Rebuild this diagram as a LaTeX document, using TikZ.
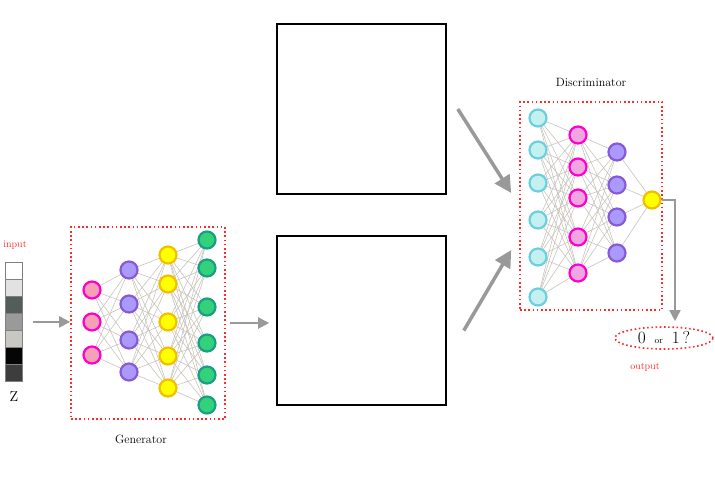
\documentclass[tikz,border=0pt]{standalone}
\usetikzlibrary{arrows.meta,backgrounds,shapes.geometric}

\definecolor{wiregray}{HTML}{C8C4BC}
\definecolor{arrgray}{HTML}{999999}
\definecolor{dotred}{HTML}{FF2A2A}
\definecolor{pinkfill}{HTML}{F5A0B4}
\definecolor{pinkdfill}{HTML}{F0A6E0}
\definecolor{magenta}{HTML}{FF00CC}
\definecolor{purplefill}{HTML}{AA99FF}
\definecolor{purpleline}{HTML}{8A5AD6}
\definecolor{yellowfill}{HTML}{FFFF00}
\definecolor{yellowline}{HTML}{F0C000}
\definecolor{greenfill}{HTML}{33D17A}
\definecolor{greenline}{HTML}{1A9E86}
\definecolor{cyanfill}{HTML}{C4F0F0}
\definecolor{cyanline}{HTML}{6AD0E0}

\tikzset{
  neu/.style={circle, minimum size=17pt, inner sep=0pt, line width=2.2pt},
  npink/.style={neu, fill=pinkfill, draw=magenta},
  npinkd/.style={neu, fill=pinkdfill, draw=magenta},
  npurple/.style={neu, fill=purplefill, draw=purpleline},
  nyellow/.style={neu, fill=yellowfill, draw=yellowline},
  ngreen/.style={neu, fill=greenfill, draw=greenline},
  ncyan/.style={neu, fill=cyanfill, draw=cyanline},
  wire/.style={wiregray, line width=0.6pt},
  dotbox/.style={draw=dotred, line width=1.6pt, dash pattern=on 1.6pt off 2.6pt},
  imgbox/.style={draw=black, line width=1.6pt, inner sep=0pt},
  cell/.style={draw=gray, line width=0.6pt, minimum width=17pt, minimum height=17.1pt, inner sep=0pt},
  arr/.style={arrgray, line width=2pt, -{Triangle[length=11pt, width=11pt]}},
  bigarr/.style={arrgray, line width=3.5pt, -{Triangle[length=17pt, width=17pt]}},
}

\begin{document}
\begin{tikzpicture}[x=1pt,y=-1pt]
\useasboundingbox (0,0) rectangle (715,483);

% input vector
\foreach \c [count=\i] in {FFFFFF,E2E2E2,535D5B,9A9A9A,C9C7C1,050505,3D3D3D}{
  \definecolor{zcol}{HTML}{\c}
  \node[cell, fill=zcol] (z\i) at (14,{253.5+17.1*\i}) {};
}
\node[text=dotred, font=\normalsize] (inlab) at (15,245) {input};
\node[font=\Large] (zlab) at (14,397) {Z};

% generator
\node[dotbox, minimum width=154pt, minimum height=192pt] (gen) at (148,323) {};
\foreach \y [count=\i] in {290,322,355}
  \node[npink] (g1-\i) at (92,\y) {};
\foreach \y [count=\i] in {270,304,340,372}
  \node[npurple] (g2-\i) at (129,\y) {};
\foreach \y [count=\i] in {255,284,322,356,388}
  \node[nyellow] (g3-\i) at (168,\y) {};
\foreach \y [count=\i] in {240,268,307,343,375,405}
  \node[ngreen] (g4-\i) at (207,\y) {};
\node[font=\large] (genlab) at (141,439) {Generator};

% discriminator
\node[dotbox, minimum width=142pt, minimum height=208pt] (disc) at (591,206) {};
\foreach \y [count=\i] in {118,150,183,220,257,297}
  \node[ncyan] (d1-\i) at (538,\y) {};
\foreach \y [count=\i] in {135,167,198,237,273}
  \node[npinkd] (d2-\i) at (578,\y) {};
\foreach \y [count=\i] in {152,185,217,253}
  \node[npurple] (d3-\i) at (617,\y) {};
\node[nyellow] (d4-1) at (652,200) {};
\node[font=\large] (disclab) at (591,82) {Discriminator};

% wires
\begin{scope}[on background layer]
\foreach \i in {1,...,3} \foreach \j in {1,...,4} \draw[wire] (g1-\i) -- (g2-\j);
\foreach \i in {1,...,4} \foreach \j in {1,...,5} \draw[wire] (g2-\i) -- (g3-\j);
\foreach \i in {1,...,5} \foreach \j in {1,...,6} \draw[wire] (g3-\i) -- (g4-\j);
\foreach \i in {1,...,6} \foreach \j in {1,...,5} \draw[wire] (d1-\i) -- (d2-\j);
\foreach \i in {1,...,5} \foreach \j in {1,...,4} \draw[wire] (d2-\i) -- (d3-\j);
\foreach \i in {1,...,4} \draw[wire] (d3-\i) -- (d4-1);
\end{scope}

% image boxes
\node[imgbox, minimum width=169pt, minimum height=170pt] (img1) at (361.5,109) {};
\node[imgbox, minimum width=169pt, minimum height=169pt] (img2) at (361.5,320.5) {};

% output
\node[ellipse, dotbox, minimum width=98pt, minimum height=22pt, inner sep=0pt] (out) at (664,338)
  {{\LARGE 0}\hspace{9pt}{\small or}\hspace{9pt}{\LARGE 1\,?}};
\node[text=dotred, font=\normalsize] (outlab) at (645,367) {output};

% arrows
\draw[arr, shorten <=10pt] (z4.east) -- (z4.east -| gen.west);
\draw[arr, shorten <=4pt, shorten >=7pt] (gen.east) -- (gen.east -| img2.west);
\draw[bigarr] ([xshift=11pt]img1.east) -- ([shift={(-8pt,13pt)}]disc.west);
\draw[bigarr] ([shift={(17pt,-10pt)}]img2.east) -- ([shift={(-8pt,-44pt)}]disc.west);
\draw[arr, line width=1.6pt, shorten >=5pt] (d4-1.east) -| ([xshift=11pt]out.north);
\end{tikzpicture}
\end{document}
